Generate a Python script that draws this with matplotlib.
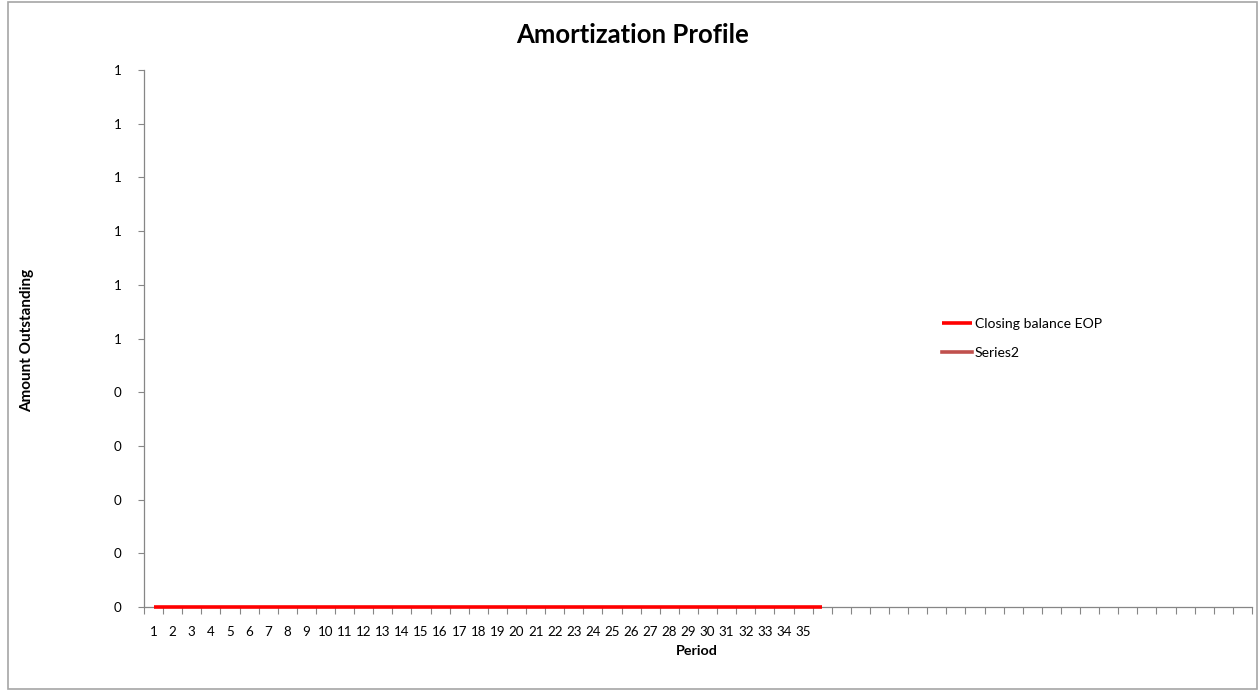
import numpy as np
import matplotlib
matplotlib.use("Agg")
import matplotlib.pyplot as plt
from matplotlib.patches import Rectangle

plt.rcParams['font.family'] = ['Lato', 'DejaVu Sans']

# data
n_categories = 58
period_labels = [str(i) for i in range(1, 36)]
periods = np.arange(1, 37)
closing_balance = np.zeros(36)
series2 = []  # empty series, legend only
y_ticks = [0.0, 0.1, 0.2, 0.3, 0.4, 0.5, 0.6, 0.7, 0.8, 0.9, 1.0]
y_tick_labels = ['0', '0', '0', '0', '0', '1', '1', '1', '1', '1', '1']

W, H = 1259, 692
fig = plt.figure(figsize=(W / 100, H / 100), dpi=100)
ax = fig.add_axes([144 / W, 1 - 607 / H, (1252 - 144) / W, (607 - 70) / H])

axis_col = '#868686'
ln1, = ax.plot(periods, closing_balance, color='#FF0000', lw=2.6, solid_capstyle='butt',
               label='Closing balance EOP', clip_on=False, zorder=5)
ln2, = ax.plot(series2, series2, color='#C0504D', lw=2.6, label='Series2')

ax.set_xlim(0.5, n_categories + 0.5)
ax.set_ylim(0, 1)

# category ticks sit between categories, labels centred on categories
ax.set_xticks(np.arange(0.5, n_categories + 1, 1.0))
ax.set_xticklabels([])
ax.set_xticks(np.arange(1, len(period_labels) + 1), minor=True)
ax.set_xticklabels(period_labels, minor=True)
ax.tick_params(axis='x', which='major', length=5, color=axis_col, width=0.8)
ax.tick_params(axis='x', which='minor', length=0, pad=14, labelsize=9.6)

ax.set_yticks(y_ticks)
ax.set_yticklabels(y_tick_labels)
ax.tick_params(axis='y', length=4, color=axis_col, width=0.8, pad=12, labelsize=9.6)

for s in ['top', 'right']:
    ax.spines[s].set_visible(False)
for s in ['left', 'bottom']:
    ax.spines[s].set_color(axis_col)
    ax.spines[s].set_linewidth(0.9)

fig.text(633 / W, 1 - 35 / H, 'Amortization Profile', ha='center', va='center',
         fontsize=18.5, fontweight='bold')
fig.text(697 / W, 1 - 651 / H, 'Period', ha='center', va='center',
         fontsize=10.3, fontweight='bold')
fig.text(27 / W, 1 - 340 / H, 'Amount Outstanding', ha='center', va='center',
         rotation=90, fontsize=11, fontweight='bold')

fig.legend(handles=[ln1, ln2], loc='upper left', bbox_to_anchor=(936 / W, 1 - 312 / H),
           frameon=False, fontsize=10.1, handlelength=2.2, handletextpad=0.15,
           labelspacing=1.25, borderaxespad=0)

fig.patches.append(Rectangle((8 / W, 3 / H), (1257 - 8) / W, (690 - 3) / H,
                             transform=fig.transFigure, fill=False,
                             edgecolor='#A6A6A6', lw=1.2))

fig.savefig('out.png', dpi=100)
